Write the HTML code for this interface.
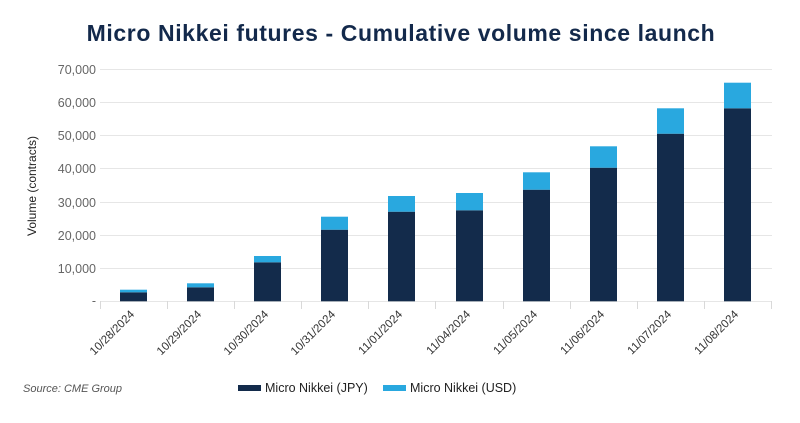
<!DOCTYPE html>
<html><head><meta charset="utf-8"><style>
body{margin:0;background:#fff;}
svg text{font-family:"Liberation Sans",sans-serif;}
</style></head><body>
<svg width="800" height="418" xmlns="http://www.w3.org/2000/svg">
<rect width="800" height="418" fill="#fff"/>
<text x="401" y="41" text-anchor="middle" font-size="23" font-weight="bold" letter-spacing="0.6" fill="#13294b">Micro Nikkei futures - Cumulative volume since launch</text>
<g stroke="#e6e6e6" stroke-width="1">
<line x1="100" x2="772" y1="69.5" y2="69.5"/>
<line x1="100" x2="772" y1="102.5" y2="102.5"/>
<line x1="100" x2="772" y1="135.5" y2="135.5"/>
<line x1="100" x2="772" y1="168.5" y2="168.5"/>
<line x1="100" x2="772" y1="202.5" y2="202.5"/>
<line x1="100" x2="772" y1="235.5" y2="235.5"/>
<line x1="100" x2="772" y1="268.5" y2="268.5"/>
<line x1="100" x2="772" y1="301.5" y2="301.5"/>
</g>
<g stroke="#d9d9d9" stroke-width="1">
<line x1="100.5" x2="100.5" y1="301" y2="309"/><line x1="167.5" x2="167.5" y1="301" y2="309"/><line x1="234.5" x2="234.5" y1="301" y2="309"/><line x1="301.5" x2="301.5" y1="301" y2="309"/><line x1="368.5" x2="368.5" y1="301" y2="309"/><line x1="435.5" x2="435.5" y1="301" y2="309"/><line x1="503.5" x2="503.5" y1="301" y2="309"/><line x1="570.5" x2="570.5" y1="301" y2="309"/><line x1="637.5" x2="637.5" y1="301" y2="309"/><line x1="704.5" x2="704.5" y1="301" y2="309"/><line x1="771.5" x2="771.5" y1="301" y2="309"/>
</g>
<g font-size="12.5" fill="#666" text-anchor="end">
<text x="96" y="74">70,000</text><text x="96" y="107">60,000</text><text x="96" y="140">50,000</text><text x="96" y="173">40,000</text><text x="96" y="207">30,000</text><text x="96" y="240">20,000</text><text x="96" y="273">10,000</text><text x="96" y="305">-</text>
</g>
<text transform="translate(36,186) rotate(-90)" text-anchor="middle" font-size="12" fill="#222">Volume (contracts)</text>
<g fill="#132b4b">
<rect x="120" y="292.3" width="27" height="9"/>
<rect x="187" y="287.3" width="27" height="14"/>
<rect x="254" y="262.3" width="27" height="39"/>
<rect x="321" y="229.7" width="27" height="71.6"/>
<rect x="388" y="211.7" width="27" height="89.6"/>
<rect x="456" y="210.3" width="27" height="91"/>
<rect x="523" y="189.7" width="27" height="111.6"/>
<rect x="590" y="167.7" width="27" height="133.6"/>
<rect x="657" y="133.7" width="27" height="167.6"/>
<rect x="724" y="108.3" width="27" height="193"/>
</g>
<g fill="#29a8df">
<rect x="120" y="289.7" width="27" height="2.6"/>
<rect x="187" y="283.3" width="27" height="4"/>
<rect x="254" y="256" width="27" height="6.3"/>
<rect x="321" y="216.7" width="27" height="13"/>
<rect x="388" y="196" width="27" height="15.7"/>
<rect x="456" y="193" width="27" height="17.3"/>
<rect x="523" y="172.3" width="27" height="17.4"/>
<rect x="590" y="146.3" width="27" height="21.4"/>
<rect x="657" y="108.3" width="27" height="25.4"/>
<rect x="724" y="82.7" width="27" height="25.6"/>
</g>
<g font-size="11.5" fill="#333" text-anchor="end">
<text transform="translate(135,315) rotate(-45)">10/28/2024</text>
<text transform="translate(202,315) rotate(-45)">10/29/2024</text>
<text transform="translate(269,315) rotate(-45)">10/30/2024</text>
<text transform="translate(336,315) rotate(-45)">10/31/2024</text>
<text transform="translate(403,315) rotate(-45)">11/01/2024</text>
<text transform="translate(471,315) rotate(-45)">11/04/2024</text>
<text transform="translate(538,315) rotate(-45)">11/05/2024</text>
<text transform="translate(605,315) rotate(-45)">11/06/2024</text>
<text transform="translate(672,315) rotate(-45)">11/07/2024</text>
<text transform="translate(739,315) rotate(-45)">11/08/2024</text>
</g>
<text x="23" y="392" font-size="11" font-style="italic" fill="#555">Source: CME Group</text>
<rect x="238" y="385" width="23" height="6" fill="#132b4b"/>
<text x="265" y="392" font-size="12.5" fill="#222">Micro Nikkei (JPY)</text>
<rect x="383" y="385" width="23" height="6" fill="#29a8df"/>
<text x="410" y="392" font-size="12.5" fill="#222">Micro Nikkei (USD)</text>
</svg>
</body></html>
